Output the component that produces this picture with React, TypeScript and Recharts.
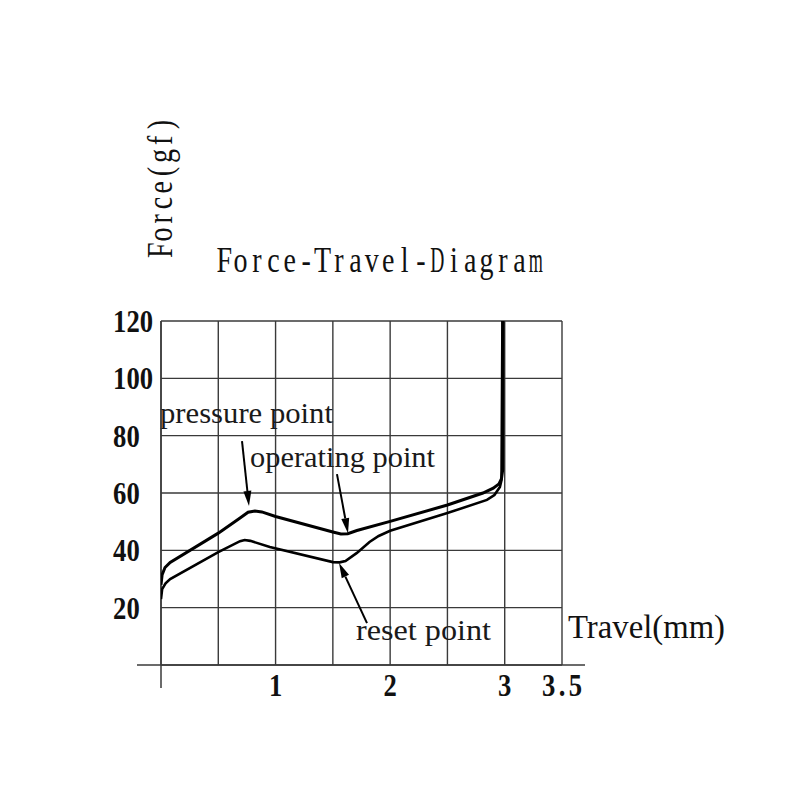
import React from 'react';
import {
  LineChart, Line, XAxis, YAxis, CartesianGrid, ReferenceLine, Customized,
} from 'recharts';

// travel (mm) vs force (gf), pressing stroke
const pressX = [0, 0.01, 0.035, 0.08, 0.5, 0.69, 0.76, 0.82, 0.88, 1.0, 1.5, 1.57, 1.63, 1.71, 2.0, 2.5, 2.81, 2.9, 2.95, 2.972, 2.982, 2.985];
const pressY = [28, 31.5, 34, 35.8, 46, 51.3, 53.3, 53.7, 53.4, 51.8, 46.4, 45.7, 45.8, 46.9, 50.1, 55.8, 60.0, 61.7, 63.2, 65, 68, 120];

// release stroke
const releaseX = [0, 0.01, 0.04, 0.08, 0.5, 0.69, 0.73, 0.78, 0.95, 1.5, 1.56, 1.61, 1.71, 1.82, 1.9, 2.0, 2.5, 2.845, 2.91, 2.958, 2.972, 2.98];
const releaseY = [23, 26.5, 28.5, 30, 39.4, 43.2, 43.6, 43.3, 41.2, 35.9, 35.8, 36.3, 39.1, 42.9, 45.0, 46.8, 53.0, 57.6, 59.3, 62.1, 64.5, 120];

const xTicks = [0, 0.5, 1, 1.5, 2, 2.5, 3, 3.5];
const xLabels = ['1', '2', '3', '3.5'];
const yTicks = [0, 20, 40, 60, 80, 100, 120];

// annotation arrows: [fromX, fromY, tipX, tipY]
const pressureArrow = [0.707, 78.1, 0.768, 55.5];
const operatingArrow = [1.536, 66.6, 1.632, 46.0];
const resetArrow = [1.798, 14.6, 1.554, 35.6];

const pressData = pressX.map((x, i) => ({ x, y: pressY[i] }));
const releaseData = releaseX.map((x, i) => ({ x, y: releaseY[i] }));

const GRID = '#3a3a3a';
const SERIF = '"Liberation Serif", "Times New Roman", serif';
const WIDE = 'mMwWD';

// fixed-pitch serif text: each glyph centred in its own cell, squeezed horizontally
const MonoText = ({ text, x, y, pitch, size, sx, rotate = false, weight = 'normal' }: any) => {
  const p = pitch / sx;
  return (
    <text transform={`translate(${x},${y})${rotate ? ' rotate(-90)' : ''} scale(${sx},1)`}
      y={0} textAnchor="middle" fontFamily={SERIF} fontSize={size} fontWeight={weight} fill="#111">
      {text.split('').map((c: string, i: number) => (
        <tspan key={i} x={((i + 0.5) * p).toFixed(2)}
          {...(WIDE.includes(c) ? { textLength: p * 0.86, lengthAdjust: 'spacingAndGlyphs' } : {})}>
          {c}
        </tspan>
      ))}
    </text>
  );
};

const Arrow = (props: any) => {
  const { x1, y1, x2, y2 } = props;
  const dx = x2 - x1;
  const dy = y2 - y1;
  const len = Math.sqrt(dx * dx + dy * dy) || 1;
  const ux = dx / len;
  const uy = dy / len;
  const head = 15;
  const half = 4;
  const bx = x2 - ux * head;
  const by = y2 - uy * head;
  const pts = `${x2},${y2} ${bx - uy * half},${by + ux * half} ${bx + uy * half},${by - ux * half}`;
  return (
    <g>
      <line x1={x1} y1={y1} x2={bx} y2={by} stroke="#000" strokeWidth={2} />
      <polygon points={pts} fill="#000" />
    </g>
  );
};

const XAxisLine = (props: any) => {
  const { x1, x2, y1 } = props;
  return <line x1={Math.min(x1, x2) - 24} x2={Math.max(x1, x2) + 23} y1={y1} y2={y1} stroke={GRID} strokeWidth={1.5} />;
};

const YAxisLine = (props: any) => {
  const { x1, y1, y2 } = props;
  return <line x1={x1} x2={x1} y1={Math.min(y1, y2)} y2={Math.max(y1, y2) + 23} stroke={GRID} strokeWidth={1.5} />;
};

const YTick = (props: any) => {
  const { x, y, payload } = props;
  if (payload.value === 0) return null;
  return <MonoText text={String(payload.value)} x={x - 40} y={y + 11} pitch={13.4} size={31} sx={0.86} weight="bold" />;
};

const XTick = (props: any) => {
  const { x, y, payload } = props;
  const s = String(payload.value);
  if (!xLabels.includes(s)) return null;
  return <MonoText text={s} x={x - (s.length * 13.4) / 2} y={y + 23} pitch={13.4} size={31} sx={0.86} weight="bold" />;
};

const Texts = () => (
  <g>
    <MonoText text="Force-Travel-Diagram" x={216} y={272} pitch={16.4} size={35} sx={0.8} />
    <MonoText text="Force(gf)" x={172} y={258} pitch={15.7} size={35} sx={0.8} rotate />
    <text x={568} y={638} fontFamily={SERIF} fontSize={34} fill="#111"
      textLength={157} lengthAdjust="spacingAndGlyphs">Travel(mm)</text>
    <text x={160} y={423} fontFamily={SERIF} fontSize={30} fill="#1a1a1a"
      textLength={173} lengthAdjust="spacingAndGlyphs">pressure point</text>
    <text x={250} y={467} fontFamily={SERIF} fontSize={30} fill="#1a1a1a"
      textLength={185} lengthAdjust="spacingAndGlyphs">operating point</text>
    <text x={356} y={640} fontFamily={SERIF} fontSize={30} fill="#1a1a1a"
      textLength={135} lengthAdjust="spacingAndGlyphs">reset point</text>
  </g>
);

const seg = (a: number[]) => [{ x: a[0], y: a[1] }, { x: a[2], y: a[3] }];

export default function App() {
  return (
    <div style={{ position: 'absolute', left: 0, top: 0, width: 800, height: 800, background: '#fff' }}>
      <LineChart width={800} height={800} margin={{ top: 321, right: 238, bottom: 95, left: 113 }}>
        <CartesianGrid stroke={GRID} strokeWidth={1.4} />
        <XAxis type="number" dataKey="x" domain={[0, 3.5]} ticks={xTicks} height={40}
          axisLine={false} tickLine={false} tick={<XTick />} interval={0} allowDataOverflow />
        <YAxis type="number" domain={[0, 120]} ticks={yTicks} width={48}
          axisLine={false} tickLine={false} tick={<YTick />} interval={0} allowDataOverflow />
        <ReferenceLine y={0} shape={<XAxisLine />} />
        <ReferenceLine x={0} shape={<YAxisLine />} />
        <Line data={pressData} dataKey="y" type="linear" stroke="#000" strokeWidth={3}
          dot={false} activeDot={false} isAnimationActive={false} />
        <Line data={releaseData} dataKey="y" type="linear" stroke="#000" strokeWidth={2.6}
          dot={false} activeDot={false} isAnimationActive={false} />
        <ReferenceLine segment={seg(pressureArrow)} shape={<Arrow />} />
        <ReferenceLine segment={seg(operatingArrow)} shape={<Arrow />} />
        <ReferenceLine segment={seg(resetArrow)} shape={<Arrow />} />
        <Customized component={Texts} />
      </LineChart>
    </div>
  );
}
